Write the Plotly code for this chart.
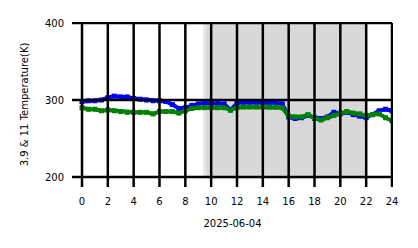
import plotly.graph_objects as go

hours = [i * 0.5 for i in range(49)]
t39 = [298, 299, 299, 300, 303, 305, 304, 304, 302, 301, 300, 299, 299, 298, 294, 289,
       290, 293, 295, 296, 296, 296, 295, 287, 296, 297, 297, 297, 297, 296, 296, 295,
       278, 276, 277, 280, 277, 276, 278, 284, 282, 284, 281, 279, 277, 281, 286, 288, 286]
t11 = [290, 288, 288, 286, 287, 286, 285, 284, 284, 284, 284, 282, 285, 285, 285, 283,
       286, 289, 290, 290, 290, 290, 290, 287, 290, 291, 291, 291, 291, 291, 291, 290,
       279, 278, 278, 281, 276, 274, 277, 280, 283, 285, 283, 282, 280, 281, 282, 277, 273]
night_span = [9.5, 22]
xticks = list(range(0, 25, 2))
yticks = [200, 300, 400]
xlabel = "2025-06-04"
ylabel = "3.9 & 11 Temperature(K)"

W, H = 418, 248
TICK = 10   # tick length, px
PAD = 1     # room for the edge lines, px
ML, MR, MT, MB = 72, 25, 22, 61
xd = [xticks[0], xticks[-1]]
yd = [yticks[0], yticks[-1]]
kx = (xd[1] - xd[0]) / (W - ML - MR - TICK - PAD)   # data units per px
ky = (yd[1] - yd[0]) / (H - MT - MB - TICK - PAD)
xr = [xd[0] - TICK * kx, xd[1] + PAD * kx]
yr = [yd[0] - TICK * ky, yd[1] + PAD * ky]

fig = go.Figure()
fig.add_trace(go.Scatter(x=hours, y=t39, mode="lines+markers",
                         line=dict(color="#0000ff", width=4),
                         marker=dict(color="#0000ff", size=5, symbol="square"),
                         showlegend=False))
fig.add_trace(go.Scatter(x=hours, y=t11, mode="lines+markers",
                         line=dict(color="#008000", width=4),
                         marker=dict(color="#008000", size=5, symbol="square"),
                         showlegend=False))

blk = dict(color="black", width=2.5)
shapes = [dict(type="rect", xref="x", yref="y", x0=night_span[0], x1=night_span[1],
               y0=yd[0], y1=yd[1], fillcolor="#d8d8d8",
               line=dict(color="#e6e6e6", width=3), layer="below")]
for xv in xticks:
    shapes.append(dict(type="line", xref="x", yref="y", x0=xv, x1=xv,
                       y0=yr[0], y1=yd[1], line=blk, layer="above"))
for yv in yticks:
    shapes.append(dict(type="line", xref="x", yref="y", x0=xr[0], x1=xd[1],
                       y0=yv, y1=yv, line=blk, layer="above"))

fig.update_layout(
    width=W, height=H,
    margin=dict(l=ML, r=MR, t=MT, b=MB),
    paper_bgcolor="white", plot_bgcolor="white",
    font=dict(family="DejaVu Sans", size=10, color="black"),
    shapes=shapes,
    xaxis=dict(range=xr, tickmode="array", tickvals=xticks, showgrid=False,
               zeroline=False, showline=False, ticks="",
               ticklabelstandoff=7, tickfont=dict(size=10),
               title=dict(text=xlabel, font=dict(size=10), standoff=13)),
    yaxis=dict(range=yr, tickmode="array", tickvals=yticks, showgrid=False,
               zeroline=False, showline=False, ticks="",
               ticklabelstandoff=7, tickfont=dict(size=10),
               title=dict(text=ylabel, font=dict(size=10), standoff=14)),
)
fig.write_html("out.html")
